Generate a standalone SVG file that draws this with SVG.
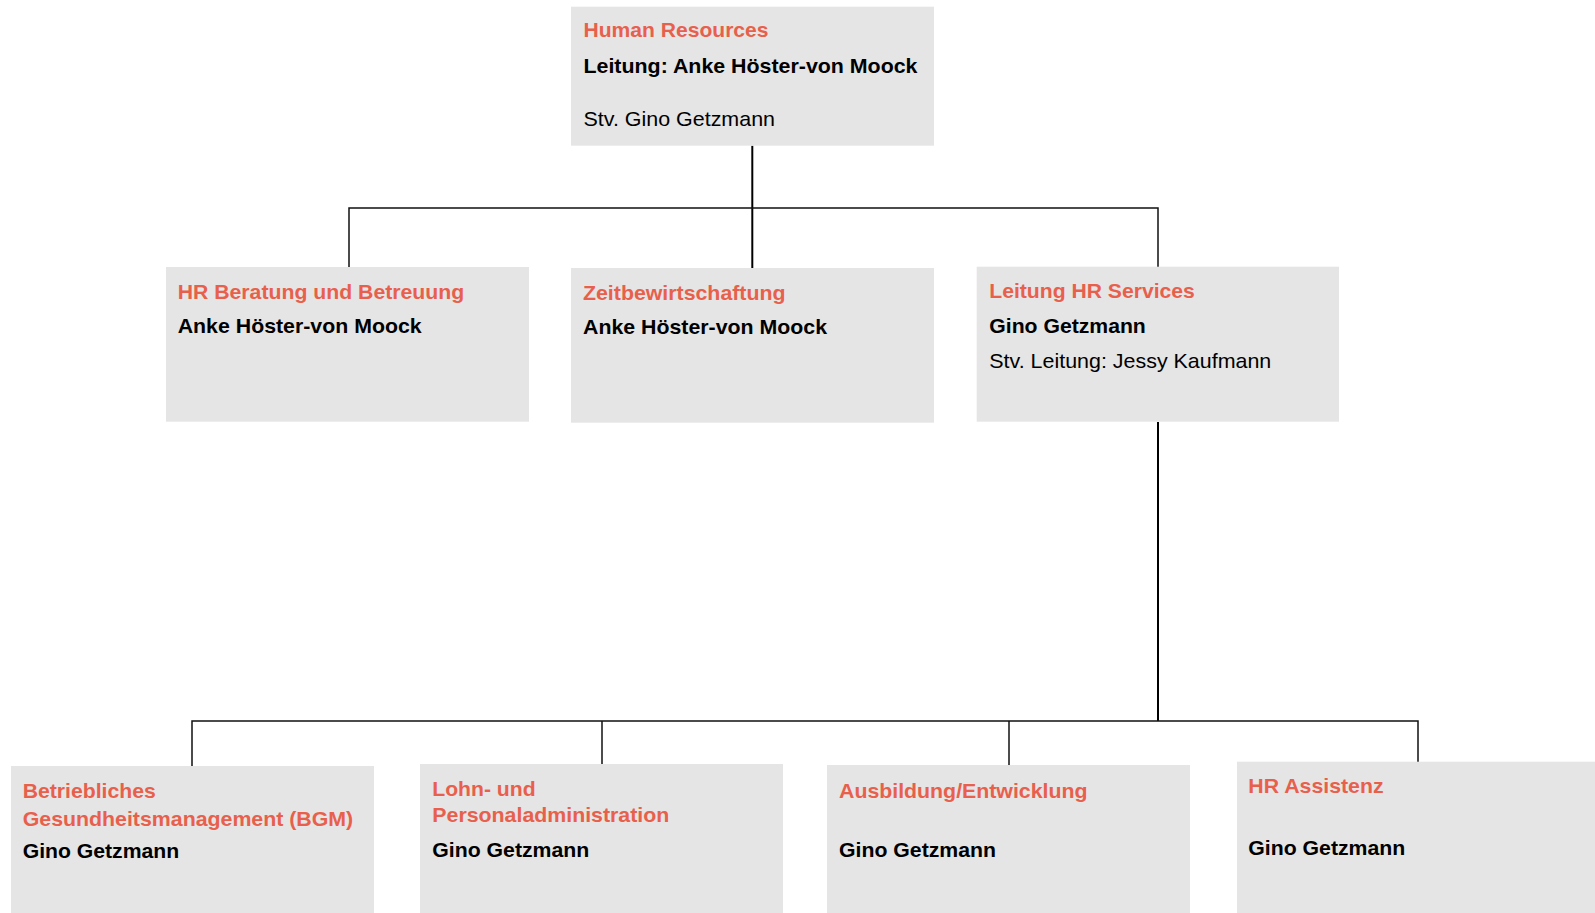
<svg xmlns="http://www.w3.org/2000/svg" width="1595" height="913" viewBox="0 0 1595 913">
<style>
.box{fill:#E5E5E5;stroke:none}
.t{font-family:"Liberation Sans",Arial,sans-serif;font-size:21px}
.h{fill:#E8604C;font-weight:bold}
.b{fill:#000;font-weight:bold}
.r{fill:#000}
.c{fill:none;stroke:#111;stroke-width:1.5}
.c2{fill:none;stroke:#000;stroke-width:2}
</style>
<rect width="1595" height="913" fill="#fff"/>
<g id="connectors">
<path class="c2" d="M752.3 145.7V268"/>
<path class="c" d="M349 267V208H1158V267"/>
<path class="c2" d="M1158 422V721"/>
<path class="c" d="M192 766V721H1418V762"/>
<path class="c" d="M602 721V764"/>
<path class="c" d="M1009 721V765"/>
</g>
<g id="n-hr">
<rect class="box" x="571" y="6.7" width="363" height="139"/>
<text class="t h" x="583.5" y="36.7" textLength="185" lengthAdjust="spacingAndGlyphs">Human Resources</text>
<text class="t b" x="583.5" y="72.7" textLength="334" lengthAdjust="spacingAndGlyphs">Leitung: Anke Höster-von Moock</text>
<text class="t r" x="583.5" y="125.7" textLength="191.5" lengthAdjust="spacingAndGlyphs">Stv. Gino Getzmann</text>
</g>
<g id="n-beratung">
<rect class="box" x="166" y="267" width="363" height="154.7"/>
<text class="t h" x="177.7" y="299.3" textLength="286.5" lengthAdjust="spacingAndGlyphs">HR Beratung und Betreuung</text>
<text class="t b" x="177.7" y="333.3" textLength="244" lengthAdjust="spacingAndGlyphs">Anke Höster-von Moock</text>
</g>
<g id="n-zeit">
<rect class="box" x="571" y="268" width="363" height="154.7"/>
<text class="t h" x="583" y="300" textLength="202.5" lengthAdjust="spacingAndGlyphs">Zeitbewirtschaftung</text>
<text class="t b" x="583" y="334" textLength="244" lengthAdjust="spacingAndGlyphs">Anke Höster-von Moock</text>
</g>
<g id="n-services">
<rect class="box" x="976.7" y="266.7" width="362.3" height="155"/>
<text class="t h" x="989.3" y="298.3" textLength="205.5" lengthAdjust="spacingAndGlyphs">Leitung HR Services</text>
<text class="t b" x="989.3" y="332.7" textLength="156.5" lengthAdjust="spacingAndGlyphs">Gino Getzmann</text>
<text class="t r" x="989.3" y="367.7" textLength="282" lengthAdjust="spacingAndGlyphs">Stv. Leitung: Jessy Kaufmann</text>
</g>
<g id="n-bgm">
<rect class="box" x="11" y="766" width="363" height="147"/>
<text class="t h" x="22.7" y="797.7" textLength="133" lengthAdjust="spacingAndGlyphs">Betriebliches</text>
<text class="t h" x="22.7" y="825.7" textLength="330.5" lengthAdjust="spacingAndGlyphs">Gesundheitsmanagement (BGM)</text>
<text class="t b" x="22.7" y="858.3" textLength="156.5" lengthAdjust="spacingAndGlyphs">Gino Getzmann</text>
</g>
<g id="n-lohn">
<rect class="box" x="420" y="764" width="363" height="149"/>
<text class="t h" x="432.3" y="795.7" textLength="103.3" lengthAdjust="spacingAndGlyphs">Lohn- und</text>
<text class="t h" x="432.3" y="822.3" textLength="237" lengthAdjust="spacingAndGlyphs">Personaladministration</text>
<text class="t b" x="432.3" y="857.3" textLength="157" lengthAdjust="spacingAndGlyphs">Gino Getzmann</text>
</g>
<g id="n-ausbildung">
<rect class="box" x="827" y="765" width="363" height="148"/>
<text class="t h" x="839" y="797.7" textLength="248.5" lengthAdjust="spacingAndGlyphs">Ausbildung/Entwicklung</text>
<text class="t b" x="839" y="857.3" textLength="157" lengthAdjust="spacingAndGlyphs">Gino Getzmann</text>
</g>
<g id="n-assistenz">
<rect class="box" x="1237" y="761.7" width="363" height="151.3"/>
<text class="t h" x="1248.3" y="793.3" textLength="135.3" lengthAdjust="spacingAndGlyphs">HR Assistenz</text>
<text class="t b" x="1248.3" y="855" textLength="157" lengthAdjust="spacingAndGlyphs">Gino Getzmann</text>
</g>
</svg>
